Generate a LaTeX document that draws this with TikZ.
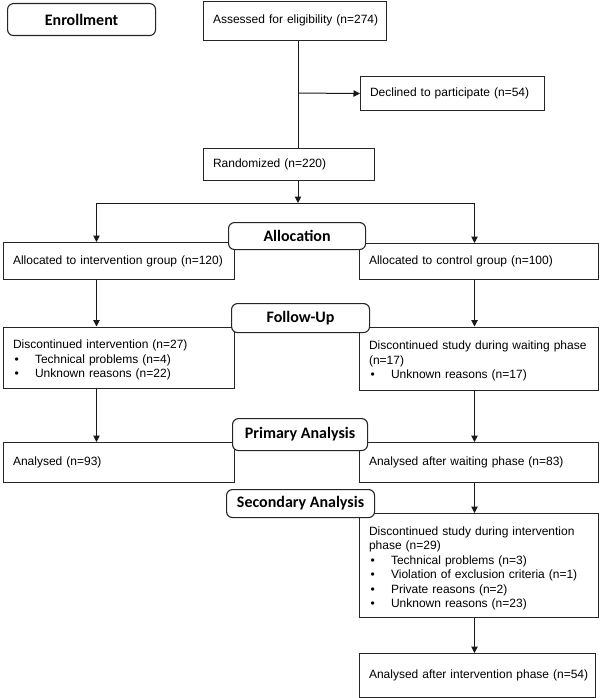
\documentclass[tikz,border=0pt]{standalone}
\usepackage{fontspec}
\setmainfont{Liberation Sans}
\newfontfamily\hdrfont{Carlito}
\usetikzlibrary{arrows.meta}
\newcommand{\bul}{\makebox[22pt][l]{\hspace{1.5pt}\textbullet}}
\newcommand{\firstln}{\rule{0pt}{14pt}}
\begin{document}
\begin{tikzpicture}[x=1pt,y=-1pt,
  bx/.style={draw=black!85, line width=1.1pt, rectangle, anchor=north west,
    inner xsep=9.5pt, inner ysep=0pt, align=left,
    font=\fontsize{12}{14.5}\selectfont},
  phase/.style={draw=black!85, line width=1.1pt, rounded corners=6pt, fill=white,
    anchor=north west, inner sep=0pt, align=center,
    font=\hdrfont\bfseries\fontsize{16}{19}\selectfont},
  arr/.style={draw=black!90, line width=1pt, -{Triangle[length=6.5pt,width=6.5pt]}},
  ln/.style={draw=black!90, line width=1pt}]
\useasboundingbox (0,0) rectangle (600,698);

% boxes
\node[bx, text width=164pt, minimum height=39pt] (assess) at (203,0.6) {\mbox{Assessed for eligibility (n=274)}};
\node[bx, text width=165pt, minimum height=34pt] (decl) at (360,76) {\mbox{Declined to participate (n=54)}};
\node[bx, text width=152pt, minimum height=32pt] (rand) at (203,148) {\mbox{Randomized (n=220)}};
\node[bx, text width=212pt, minimum height=37pt] (int) at (3,242) {\mbox{Allocated to intervention group (n=120)}};
\node[bx, text width=220pt, minimum height=36pt] (ctrl) at (359,243) {\mbox{Allocated to control group (n=100)}};
\node[bx, text width=212pt, minimum height=61pt] (discI) at (3,326.5) {\firstln Discontinued intervention (n=27)\\\bul Technical problems (n=4)\\\bul Unknown reasons (n=22)};
\node[bx, text width=220pt, minimum height=63pt] (discW) at (359,326.5) {\firstln Discontinued study during waiting phase\\(n=17)\\\bul Unknown reasons (n=17)};
\node[bx, text width=212pt, minimum height=40pt] (anaI) at (3,442) {\mbox{Analysed (n=93)}};
\node[bx, text width=220pt, minimum height=40pt] (anaW) at (359,442) {\mbox{Analysed after waiting phase (n=83)}};
\node[bx, text width=220pt, minimum height=104pt] (discP) at (359,513) {\firstln Discontinued study during intervention\\phase (n=29)\\\bul Technical problems (n=3)\\\bul Violation of exclusion criteria (n=1)\\\bul Private reasons (n=2)\\\bul Unknown reasons (n=23)};
\node[bx, text width=217pt, minimum height=44pt] (final) at (359,653) {\mbox{Analysed after intervention phase (n=54)}};

% connector coordinates
\coordinate (mid) at (298,0);
\coordinate (cl) at (96.5,0);
\coordinate (cr) at (474.5,0);
\coordinate (split) at (298,203);
\coordinate (hl) at (96.5,203);
\coordinate (hr) at (474.5,203);
\coordinate (br) at (298,93);

% connectors
\draw[ln] (assess.south -| mid) -- (rand.north -| mid);
\draw[arr] (br) -- (decl.west);
\draw[arr] (rand.south -| mid) -- (split);
\draw[ln] (hl) -- (hr);
\draw[arr] (hl) -- (int.north -| cl);
\draw[arr] (hr) -- (ctrl.north -| cr);
\draw[arr] (int.south -| cl) -- (discI.north -| cl);
\draw[arr] (ctrl.south -| cr) -- (discW.north -| cr);
\draw[arr] (discI.south -| cl) -- (anaI.north -| cl);
\draw[arr] (discW.south -| cr) -- (anaW.north -| cr);
\draw[arr] (anaW.south -| cr) -- (discP.north -| cr);
\draw[arr] (discP.south -| cr) -- (final.north -| cr);

% phase labels
\node[phase, minimum width=148pt, minimum height=32pt] (enr) at (7,3) {Enrollment};
\node[phase, minimum width=137pt, minimum height=27pt] (alloc) at (228,222) {Allocation};
\node[phase, minimum width=138pt, minimum height=29pt] (fol) at (231,303) {Follow-Up};
\node[phase, minimum width=135pt, minimum height=32pt] (prim) at (232,418) {Primary Analysis};
\node[phase, minimum width=148pt, minimum height=28pt] (sec) at (226,489) {Secondary Analysis};
\end{tikzpicture}
\end{document}
